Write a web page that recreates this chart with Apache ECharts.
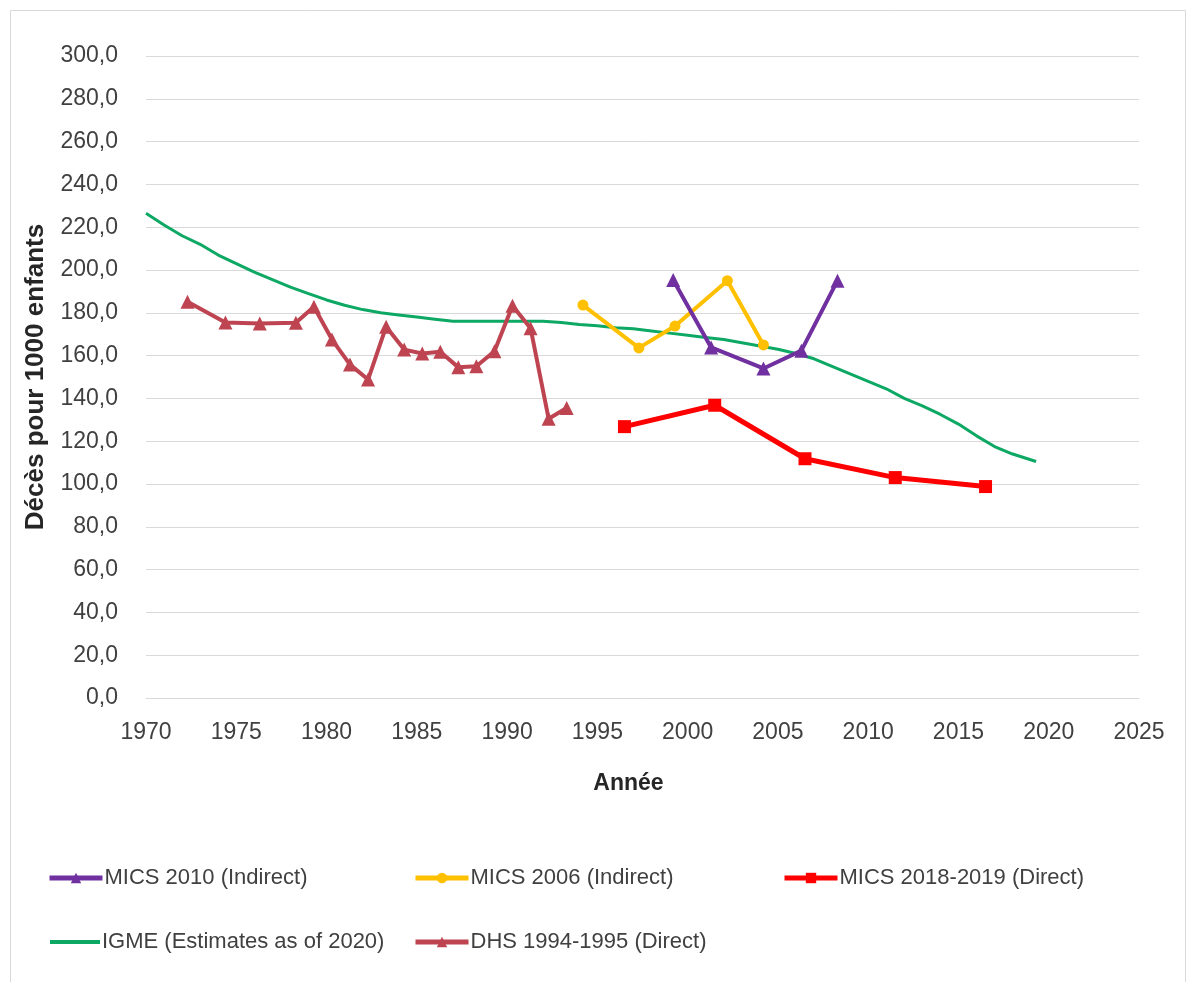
<!DOCTYPE html>
<html><head><meta charset="utf-8">
<script src="https://cdn.jsdelivr.net/npm/echarts@6/dist/echarts.min.js"></script>
<style>html,body{margin:0;padding:0;background:#fff}#c{width:1195px;height:982px}</style>
</head><body><div id="c"></div>
<script>
// ---- Data ----
const igmeYears = [1970,1971,1972,1973,1974,1975,1976,1977,1978,1979,1980,1981,1982,1983,1984,1985,1986,1987,1988,1989,1990,1991,1992,1993,1994,1995,1996,1997,1998,1999,2000,2001,2002,2003,2004,2005,2006,2007,2008,2009,2010,2011,2012,2013,2014,2015,2016,2017,2018,2019.3];
const igmeValues = [226.5,221,216,212,207,203,199,195.5,192,189,186,183.5,181.5,180,179,178,177,176,176,176,176,176,176,175.5,174.5,174,173,172.5,171.5,170.5,169.5,168.5,167.5,166,164.5,163,161,158.5,155,151.5,148,144.5,140,136.5,132.5,128,122.5,117.5,114,110.5];

const dhsYears = [1972.3,1974.4,1976.3,1978.3,1979.3,1980.3,1981.3,1982.3,1983.3,1984.3,1985.3,1986.3,1987.3,1988.3,1989.3,1990.3,1991.3,1992.3,1993.3];
const dhsValues = [185.2,175.5,175.0,175.3,182.8,167.5,155.8,148.8,173.5,162.8,161.0,161.8,154.5,155.0,162.0,183.3,172.8,130.5,135.5];

const mics2006Years = [1994.2,1997.3,1999.3,2002.2,2004.2];
const mics2006Values = [183.6,163.6,173.8,195.0,165.0];

const mics2010Years = [1999.2,2001.3,2004.2,2006.3,2008.3];
const mics2010Values = [195.3,163.8,154.0,162.3,195.0];

const mics2018Years = [1996.5,2001.5,2006.5,2011.5,2016.5];
const mics2018Values = [126.8,136.8,111.8,103.0,98.8];

const xTicks = {min:1970, max:2025, step:5};
const yTicks = {min:0, max:300, step:20};

const names = ['MICS 2010 (Indirect)','MICS 2006 (Indirect)','MICS 2018-2019 (Direct)','IGME (Estimates as of 2020)','DHS 1994-1995 (Direct)'];

// ---- Build ----
const pairs = (xs, ys) => xs.map((x,i)=>[x, ys[i]]);
const FONT = "'Liberation Sans','Arial',sans-serif";
const fmt = v => v.toFixed(1).replace('.', ',');

const chart = echarts.init(document.getElementById('c'), null, {renderer:'canvas'});

const legendPos = [
  {left:42, top:862}, {left:408, top:862}, {left:777, top:862},
  {left:45, top:926}, {left:408, top:926}
];

const option = {
  backgroundColor:'#fff',
  animation:false,
  graphic:[{type:'rect', shape:{x:10.5,y:10.5,width:1175,height:980}, style:{fill:'none', stroke:'#d9d9d9', lineWidth:1}, silent:true}],
  grid:{left:146, right:56, top:56, bottom:284, containLabel:false},
  legend: names.map((n,i)=>{
    const l = {
      data:[n], left:legendPos[i].left, top:legendPos[i].top,
      itemWidth:53, itemHeight:13, itemGap:10,
      lineStyle:{width:5},
      textStyle:{fontFamily:FONT, fontSize:22, color:'#404040', padding:[0,0,0,-3]}
    };
    if (i === 3) { l.icon = 'rect'; l.itemHeight = 4; l.itemWidth = 50; }
    return l;
  }),
  xAxis:{
    type:'value', min:xTicks.min, max:xTicks.max, interval:xTicks.step,
    name:'Année', nameLocation:'middle', nameGap:74,
    nameTextStyle:{fontFamily:FONT, fontSize:23, fontWeight:'bold', color:'#262626', padding:[0,28,0,0]},
    axisLine:{show:true, lineStyle:{color:'#d9d9d9', width:1}},
    axisTick:{show:false},
    splitLine:{show:false},
    axisLabel:{fontFamily:FONT, fontSize:23, color:'#404040', margin:23, formatter:v=>String(v)}
  },
  yAxis:{
    type:'value', min:yTicks.min, max:yTicks.max, interval:yTicks.step,
    name:'Décès pour 1000 enfants', nameLocation:'middle', nameGap:97,
    nameTextStyle:{fontFamily:FONT, fontSize:26, fontWeight:'bold', color:'#262626'},
    axisLine:{show:false}, axisTick:{show:false},
    splitLine:{lineStyle:{color:'#d9d9d9', width:1}},
    axisLabel:{fontFamily:FONT, fontSize:23, color:'#404040', margin:28, formatter:fmt}
  },
  series:[
    {name:names[0], type:'line', data:pairs(mics2010Years, mics2010Values), color:'#7030A0',
     lineStyle:{width:4}, symbol:'triangle', symbolSize:14, z:5},
    {name:names[1], type:'line', data:pairs(mics2006Years, mics2006Values), color:'#FFC000',
     lineStyle:{width:4}, symbol:'circle', symbolSize:11, z:4},
    {name:names[2], type:'line', data:pairs(mics2018Years, mics2018Values), color:'#FF0000',
     lineStyle:{width:5}, symbol:'rect', symbolSize:13, z:4},
    {name:names[3], type:'line', data:pairs(igmeYears, igmeValues), color:'#0DA863',
     lineStyle:{width:3}, symbol:'none', showSymbol:false, z:3},
    {name:names[4], type:'line', data:pairs(dhsYears, dhsValues), color:'#BE4451',
     lineStyle:{width:4}, symbol:'triangle', symbolSize:14, z:4}
  ]
};
chart.setOption(option);
</script></body></html>
